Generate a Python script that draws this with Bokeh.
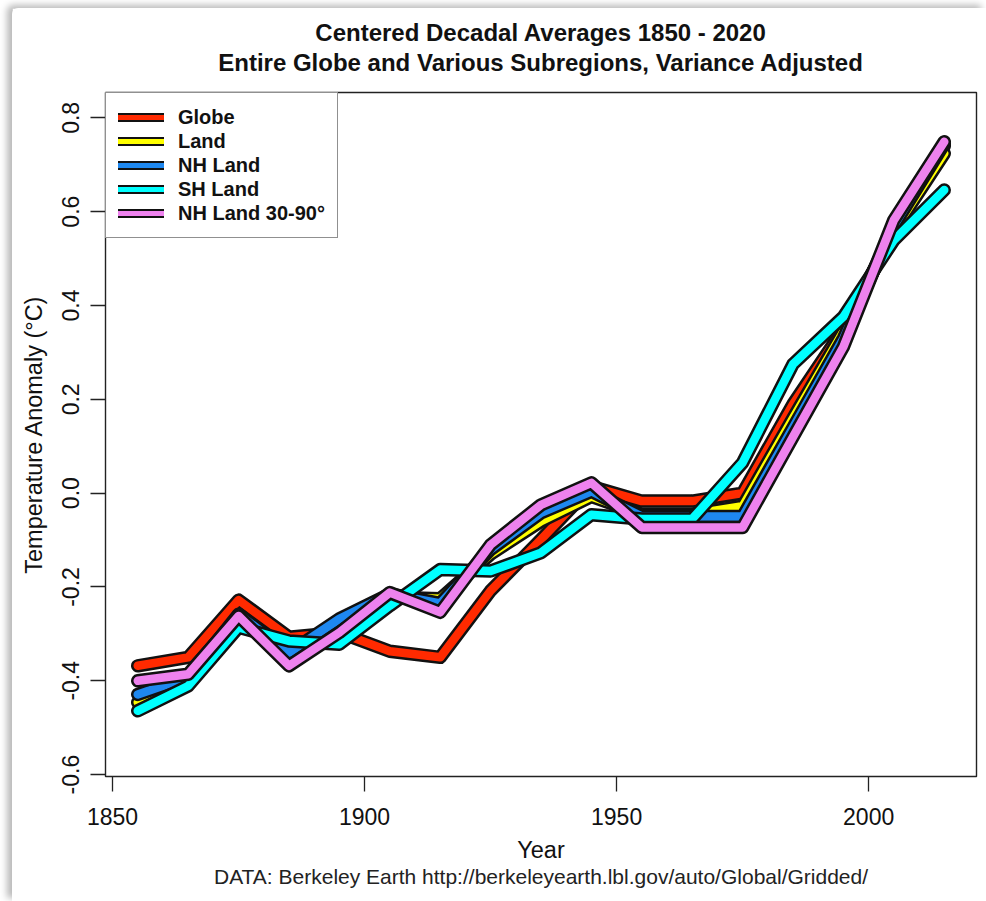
from bokeh.plotting import figure
from bokeh.models import Range1d, FixedTicker, Legend, LegendItem, Title, NumeralTickFormatter
from bokeh.embed import file_html
from bokeh.resources import INLINE

# Decade centres and centred decadal averages (°C)
years = [1855, 1865, 1875, 1885, 1895, 1905, 1915, 1925, 1935,
         1945, 1955, 1965, 1975, 1985, 1995, 2005, 2015]
globe = [-0.368, -0.350, -0.228, -0.307, -0.297, -0.337, -0.350, -0.208, -0.099,
         0.014, -0.017, -0.017, 0.000, 0.190, 0.350, 0.560, 0.740]
land = [-0.446, -0.400, -0.262, -0.345, -0.280, -0.222, -0.225, -0.130, -0.060,
        -0.007, -0.045, -0.045, -0.028, 0.160, 0.345, 0.560, 0.724]
nh_land = [-0.429, -0.392, -0.258, -0.340, -0.268, -0.215, -0.235, -0.120, -0.042,
           0.004, -0.050, -0.050, -0.050, 0.140, 0.330, 0.570, 0.745]
sh_land = [-0.464, -0.411, -0.286, -0.315, -0.322, -0.240, -0.163, -0.166, -0.127,
           -0.046, -0.055, -0.055, 0.065, 0.275, 0.376, 0.539, 0.646]
nh_land_30_90 = [-0.400, -0.386, -0.262, -0.368, -0.297, -0.212, -0.254, -0.110, -0.025,
                 0.022, -0.073, -0.073, -0.073, 0.120, 0.312, 0.582, 0.749]

series_names = ["Globe", "Land", "NH Land", "SH Land", "NH Land 30-90°"]
series_values = [globe, land, nh_land, sh_land, nh_land_30_90]
series_colors = ["#ff2a00", "#ffff00", "#1e88f0", "#00ffff", "#ee82ee"]

x_ticks = [1850, 1900, 1950, 2000]
y_ticks = [-0.6, -0.4, -0.2, 0.0, 0.2, 0.4, 0.6, 0.8]

title_line1 = "Centered Decadal Averages 1850 - 2020"
title_line2 = "Entire Globe and Various Subregions, Variance Adjusted"
x_label = "Year"
y_label = "Temperature Anomaly (°C)"
source_note = "DATA: Berkeley Earth http://berkeleyearth.lbl.gov/auto/Global/Gridded/"

FONT = "Liberation Sans"

p = figure(width=974, height=893,
           x_range=Range1d(1848.6, 2021.4), y_range=Range1d(-0.604, 0.854),
           output_backend="svg", toolbar_location=None,
           min_border_left=93, min_border_right=10,
           min_border_top=84, min_border_bottom=125)
p.margin = (8, 0, 0, 12)
p.styles = {"box-shadow": "-5px -3px 7px rgba(0,0,0,0.28)",
            "border-top-left-radius": "6px"}
p.background_fill_color = "white"
p.border_fill_color = "white"
p.grid.visible = False
p.outline_line_color = "#222222"
p.outline_line_width = 1.4

# Title block: a thin spacer next to the frame, then line 2, then the built-in title (line 1)
p.add_layout(Title(text=" ", text_font_size="1px", standoff=13), "above")
p.add_layout(Title(text=title_line2, align="center", text_font=FONT,
                   text_font_size="24px", text_font_style="bold",
                   text_color="#111111", standoff=1), "above")
p.title.text = title_line1
p.title.align = "center"
p.title.text_font = FONT
p.title.text_font_size = "24px"
p.title.text_font_style = "bold"
p.title.text_color = "#111111"
p.title.standoff = 1

# Axes
xa = p.xaxis[0]
xa.ticker = FixedTicker(ticks=x_ticks)
ya = p.yaxis[0]
ya.ticker = FixedTicker(ticks=y_ticks)
ya.formatter = NumeralTickFormatter(format="0.0")
ya.major_label_orientation = "vertical"
for ax in (xa, ya):
    ax.axis_line_color = None
    ax.major_tick_line_color = "#222222"
    ax.major_tick_line_width = 1.3
    ax.major_tick_out = 15
    ax.major_tick_in = 0
    ax.minor_tick_line_color = None
    ax.major_label_text_font = FONT
    ax.major_label_text_font_size = "23px"
    ax.major_label_text_color = "#111111"
    ax.axis_label_text_font = FONT
    ax.axis_label_text_font_size = "23.5px"
    ax.axis_label_text_font_style = "normal"
    ax.axis_label_text_color = "#111111"
xa.axis_label = x_label
xa.major_label_standoff = 16
xa.axis_label_standoff = 9
ya.axis_label = y_label
ya.major_label_standoff = 11
ya.axis_label_standoff = 13

p.add_layout(Title(text=source_note, align="center", text_font=FONT,
                   text_font_size="21px", text_font_style="normal",
                   text_color="#222222", standoff=-5), "below")

# Series: black casing first, then the coloured line on top of it
for vals, color in zip(series_values, series_colors):
    p.line(years, vals, line_color="#111111", line_width=13.5,
           line_join="round", line_cap="round")
    p.line(years, vals, line_color=color, line_width=8.5,
           line_join="round", line_cap="round")

# Legend swatches: thinner cased lines on renderers that draw nothing in the plot
nan = float("nan")
items = []
for name, color in zip(series_names, series_colors):
    r_out = p.line([years[0], years[1]], [nan, nan], line_color="#111111",
                   line_width=9, line_cap="round")
    r_in = p.line([years[0], years[1]], [nan, nan], line_color=color,
                  line_width=5, line_cap="round")
    items.append(LegendItem(label=name, renderers=[r_out, r_in]))

legend = Legend(items=items, location="top_left", margin=0, padding=12,
                spacing=0, glyph_width=46, glyph_height=24, label_height=24,
                label_standoff=14, label_text_font=FONT,
                label_text_font_size="20px", label_text_font_style="bold",
                label_text_color="#111111",
                border_line_color="#222222", border_line_width=1.4,
                background_fill_color="white", background_fill_alpha=1.0)
p.add_layout(legend)

open("out.html", "w").write(file_html(p, INLINE))
